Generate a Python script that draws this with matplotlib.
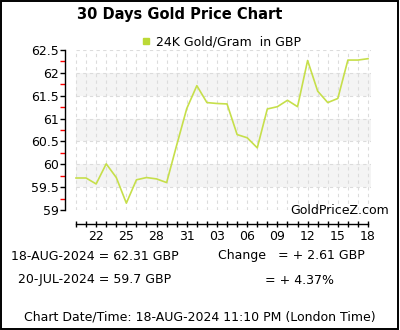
import matplotlib
matplotlib.use("Agg")
import matplotlib.pyplot as plt
import numpy as np
from matplotlib.lines import Line2D
from matplotlib.patches import Rectangle

W, H = 400, 330

dates = ["20", "21", "22", "23", "24", "25", "26", "27", "28", "29", "30", "31",
         "01", "02", "03", "04", "05", "06", "07", "08", "09", "10", "11", "12",
         "13", "14", "15", "16", "17", "18"]
prices = [59.70, 59.70, 59.57, 60.01, 59.71, 59.15, 59.66, 59.71, 59.68, 59.60,
          60.42, 61.22, 61.72, 61.35, 61.33, 61.32, 60.65, 60.58, 60.36, 61.21,
          61.26, 61.40, 61.26, 62.27, 61.60, 61.35, 61.44, 62.28, 62.28, 62.31]
y_ticks = [59, 59.5, 60, 60.5, 61, 61.5, 62, 62.5]
y_tick_labels = ["59", "59.5", "60", "60.5", "61", "61.5", "62", "62.5"]
bands = [(59.5, 60.0), (60.5, 61.0), (61.5, 62.0)]

LINE_COLOR = "#c6df4a"
GRID_COLOR = "#dcdcdc"
BAND_COLOR = "#f4f4f4"


def px(x, y):
    """Pixel position (top-left origin) to figure fraction."""
    return x / W, 1 - y / H


fig = plt.figure(figsize=(W / 100, H / 100), dpi=100)
fig.patches.append(Rectangle((1 / W, 1 / H), 397 / W, 328 / H, transform=fig.transFigure,
                             fill=False, edgecolor="black", linewidth=1.4))

left, right, top, bottom = 65, 371, 50, 210
ax = fig.add_axes([left / W, 1 - bottom / H, (right - left) / W, (bottom - top) / H])

n = len(prices)
x = np.arange(n)
day_w = 10.07
ax.set_xlim(-(76 - left) / day_w, (right - 76) / day_w)
ax.set_ylim(59, 62.5)

x_end = ax.get_xlim()[1]
for lo, hi in bands:
    ax.fill_between([0, x_end], lo, hi, color=BAND_COLOR, linewidth=0, zorder=0)
for xi in x:
    ax.plot([xi, xi], [59, 62.5], color=GRID_COLOR, linewidth=0.8, dashes=(3, 3), zorder=1)
for yv in y_ticks:
    ax.plot([0, x_end], [yv, yv], color=GRID_COLOR, linewidth=0.8, dashes=(3, 3), zorder=1)

ax.plot(x, prices, color=LINE_COLOR, linewidth=1.2, zorder=3)

for s in ["top", "right"]:
    ax.spines[s].set_visible(False)
ax.spines["left"].set_linewidth(1.0)
ax.spines["bottom"].set_position(("outward", 10))
ax.spines["bottom"].set_bounds(0, n - 1)
ax.spines["bottom"].set_linewidth(1.0)

ax.set_yticks(y_ticks)
ax.set_yticklabels(y_tick_labels)
ax.set_yticks(np.arange(59.25, 62.5, 0.5), minor=True)
ax.tick_params(axis="y", which="major", direction="out", length=3.5, width=1, pad=1,
               labelsize=9, colors="black")
ax.tick_params(axis="y", which="minor", direction="out", length=3.5, width=1, color="red")

ax.set_xticks(x)
ax.set_xticklabels([d if i % 3 == 2 else "" for i, d in enumerate(dates)])
ax.tick_params(axis="x", which="major", direction="inout", length=5, width=1, pad=2,
               labelsize=9)

handle = Line2D([], [], marker="s", linestyle="none", color="#bcd936", markersize=5)
fig.legend([handle], ["24K Gold/Gram  in GBP"], loc="center", bbox_to_anchor=px(220, 42),
           frameon=False, fontsize=9, handletextpad=0.3, handlelength=1.0)

fig.text(*px(180, 15), "30 Days Gold Price Chart", ha="center", va="center",
         fontsize=10.5, fontweight="bold")
fig.text(*px(389, 210), "GoldPriceZ.com", ha="right", va="center", fontsize=9)

fig.text(*px(95, 257), "18-AUG-2024 = 62.31 GBP", ha="center", va="center", fontsize=9)
fig.text(*px(95, 280), "20-JUL-2024 = 59.7 GBP", ha="center", va="center", fontsize=9)
fig.text(*px(218, 256), "Change   = + 2.61 GBP", ha="left", va="center", fontsize=9)
fig.text(*px(265, 280), "= + 4.37%", ha="left", va="center", fontsize=9)
fig.text(*px(200, 317), "Chart Date/Time: 18-AUG-2024 11:10 PM (London Time)",
         ha="center", va="center", fontsize=9)

fig.savefig("out.png", dpi=100)
